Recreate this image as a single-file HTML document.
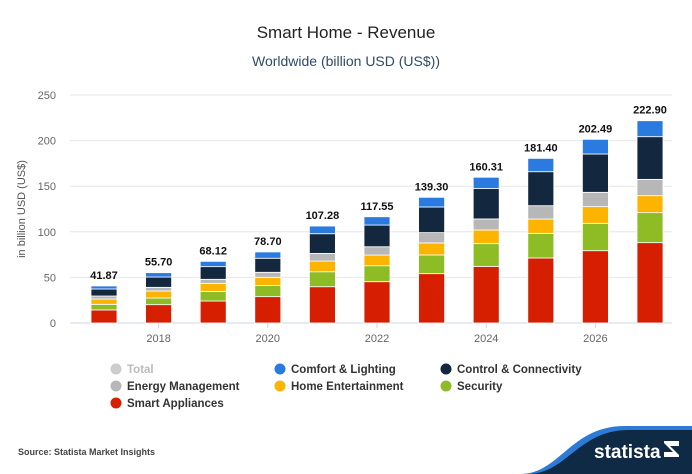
<!DOCTYPE html>
<html><head><meta charset="utf-8"><style>
body{margin:0;width:692px;height:474px;background:#fff;overflow:hidden;font-family:"Liberation Sans",Arial,sans-serif}
svg{display:block}
</style></head><body>
<svg id="c" width="692" height="474">
<text x="346" y="38" text-anchor="middle" font-size="17" fill="#222">Smart Home - Revenue</text>
<text x="346" y="66" text-anchor="middle" font-size="14" fill="#2e4a68">Worldwide (billion USD (US$))</text>
<text transform="translate(25,209) rotate(-90)" text-anchor="middle" font-size="11" fill="#555">in billion USD (US$)</text>
<g id="grid"></g><g id="bars"></g><g id="legend"></g>
<text x="18" y="455" font-size="9" font-weight="bold" fill="#444">Source: Statista Market Insights</text>
<path d="M520 474 C560 474 570 426 625 426 L692 426 L692 474 Z" fill="#2c7bd6"/>
<path d="M528 474 C566 474 578 431 627 430 L692 430 L692 474 Z" fill="#0f2a45"/>
<text x="594" y="458" font-size="19" font-weight="bold" fill="#fff">statista</text>
<path d="M664 441 h15 v5 h-9 l9 9 v2 h-15 v-5 h9 l-9 -9 z" fill="#fff"/>
</svg>
<script>
const years=[2017,2018,2019,2020,2021,2022,2023,2024,2025,2026,2027];
const totals=["41.87","55.70","68.12","78.70","107.28","117.55","139.30","160.31","181.40","202.49","222.90"];
const smartAppliances=[14.3,20.1,24.1,28.9,39.8,45.3,54.1,62.1,71.3,79.3,88.1];
const security=[6.2,7.3,10.6,12.1,16.4,17.5,20.5,24.9,27,30,32.9];
const homeEntertainment=[5.8,7.7,8.8,9.1,11.7,11.7,13.2,15,15.7,18.3,18.6];
const energyManagement=[3.3,4,4.4,5.5,8.4,9.1,11.3,12.1,14.6,15.7,17.9];
const controlConnectivity=[7.7,11.3,13.9,15.4,21.6,23.8,28.1,33.3,37.3,42,46.8];
const comfortLighting=[3.3,4.8,5.8,6.9,8.4,9.1,10.6,12.4,14.6,16.1,17.5];
const yTicks=[0,50,100,150,200,250];
const xTickYears=[2018,2020,2022,2024,2026];
const NS="http://www.w3.org/2000/svg";
const y0=323,pxPer=228/250;
const y=v=>y0-v*pxPer;
const x=i=>104+i*54.6;
const bw=26;
function mk(t,a,p){const e=document.createElementNS(NS,t);for(const k in a)e.setAttribute(k,a[k]);p.appendChild(e);return e;}
const grid=document.getElementById('grid');
yTicks.forEach(v=>{
 const l=mk('line',{x1:70,x2:672,y1:y(v),y2:y(v),stroke:v===0?'#ccd6eb':'#e6e6e6','stroke-width':1},grid);
 
 
 const t=mk('text',{x:56,y:y(v)+4,'text-anchor':'end','font-size':11,fill:'#666'},grid);t.textContent=v;
 
 
});
xTickYears.forEach(yr=>{
 const i=years.indexOf(yr);
 const t=mk('text',{x:x(i),y:342,'text-anchor':'middle','font-size':11,fill:'#666'},grid);t.textContent=yr;
 
 
 const tk=mk('line',{x1:x(i),x2:x(i),y1:y0,y2:y0+5,stroke:'#ccd6eb'},grid);
 
 
});
const series=[[smartAppliances,'#d61e00','smart-appliances'],[security,'#8dbc25','security'],[homeEntertainment,'#fdb400','home-entertainment'],[energyManagement,'#b7b7b7','energy-management'],[controlConnectivity,'#13273f','control-connectivity'],[comfortLighting,'#2b7ae0','comfort-lighting']];
const bars=document.getElementById('bars');
years.forEach((yr,i)=>{
 let acc=0;
 series.forEach(([arr,col,nm])=>{
  const v=arr[i];
  const r=mk('rect',{x:x(i)-bw/2,y:y(acc+v),width:bw,height:v*pxPer,fill:col,stroke:'#fff','stroke-width':0.8},bars);
  
  
  acc+=v;
 });
 const t=mk('text',{x:x(i),y:y(acc)-7,'text-anchor':'middle','font-size':11,'font-weight':'bold',fill:'#111'},bars);
 t.textContent=totals[i];
 
 
});
const leg=[['Total','#cccccc',116,369,'#bbb'],['Comfort & Lighting','#2b7ae0',280,369],['Control & Connectivity','#13273f',446,369],['Energy Management','#b7b7b7',116,386],['Home Entertainment','#fdb400',280,386],['Security','#8dbc25',446,386],['Smart Appliances','#d61e00',116,403]];
const lg=document.getElementById('legend');
leg.forEach(([n,c,lx,ly,tc])=>{
 const g=mk('g',{},lg);
 
 
 mk('circle',{cx:lx,cy:ly,r:5.5,fill:c},g);
 const t=mk('text',{x:lx+11,y:ly+4,'font-size':11.5,'font-weight':'bold',fill:tc||'#333'},g);t.textContent=n;
});
</script>
</body></html>
